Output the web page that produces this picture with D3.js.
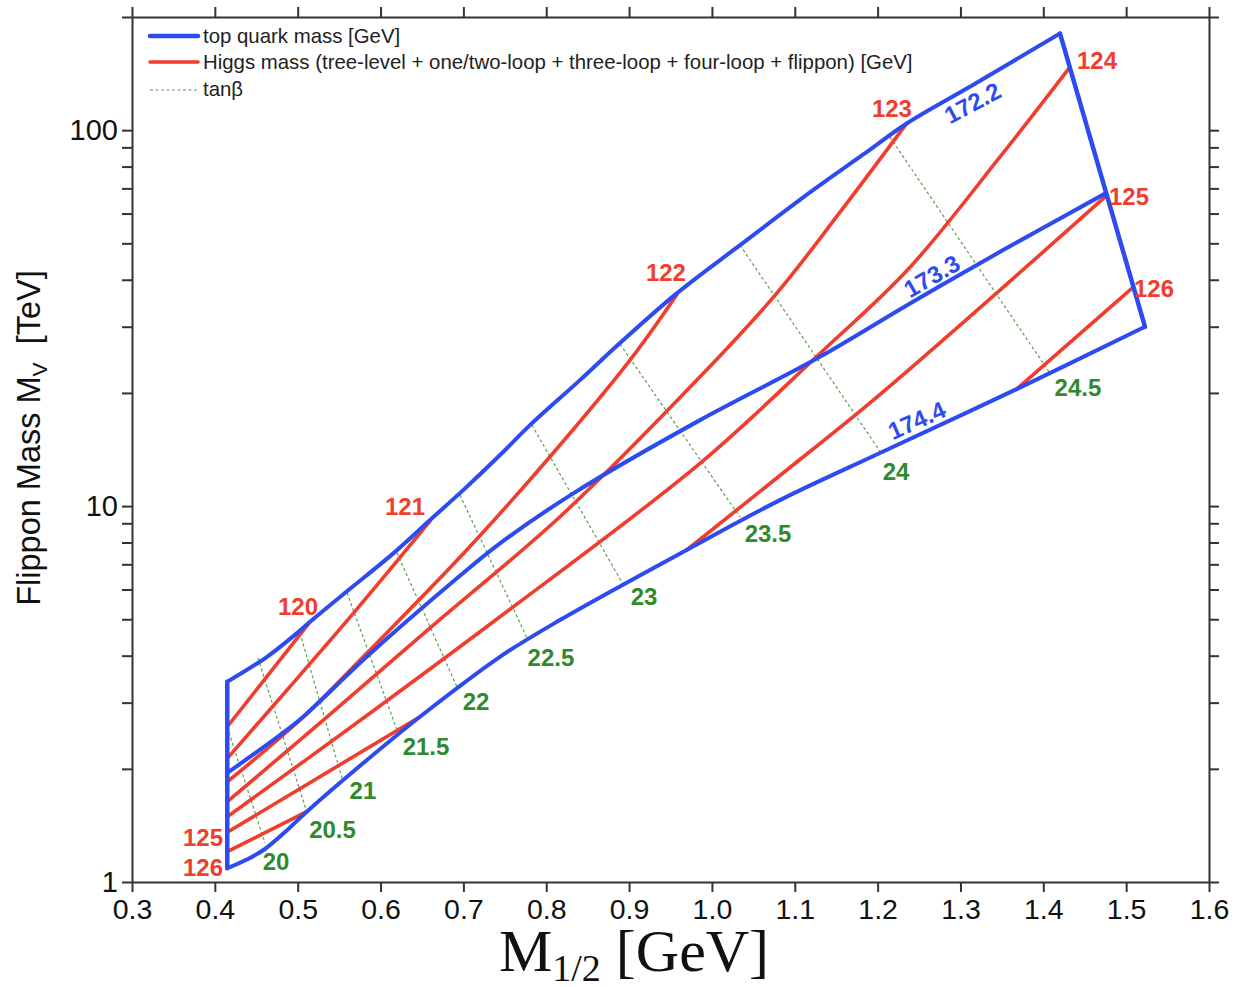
<!DOCTYPE html>
<meta charset="utf-8">
<style>

body {
  margin: 0;
  background: #fff;
}

text {
  font-family: "Liberation Sans", Arial, sans-serif;
}

.axis path,
.axis line {
  stroke: #333;
  stroke-width: 2px;
}

.contour {
  fill: none;
  stroke-linecap: round;
  stroke-linejoin: round;
}

</style>
<body>
<script src="https://d3js.org/d3.v7.min.js"></script>
<script>

// ---- data ----
var xTicks = [0.3, 0.4, 0.5, 0.6, 0.7, 0.8, 0.9, 1.0, 1.1, 1.2, 1.3, 1.4, 1.5, 1.6];
var yTickLabels = [1, 10, 100];

// top quark mass contours [GeV]
var top1722 = [[0.415, 3.41], [0.4626, 3.966], [0.4988, 4.585], [0.5149, 4.923], [0.5591, 5.925],
  [0.6154, 7.485], [0.6597, 9.18], [0.704, 11.25], [0.7442, 13.67], [0.7804, 16.42], [0.8407, 21.63],
  [0.889, 27.14], [0.9575, 36.8], [1.0339, 49.45], [1.122, 69.25], [1.1823, 86.05], [1.2351, 104.2],
  [1.3155, 132.1], [1.4201, 180.8]];
var top1733 = [[0.415, 1.95], [0.4786, 2.46], [0.5068, 2.752], [0.5833, 3.973], [0.6919, 6.416],
  [0.7442, 7.959], [0.8327, 10.81], [0.9856, 16.93], [1.1304, 24.95], [1.2391, 34.6], [1.3477, 47.46],
  [1.4756, 68.0]];
var top1744 = [[0.415, 1.088], [0.44, 1.151], [0.4605, 1.224], [0.4847, 1.358], [0.5109, 1.538],
  [0.5692, 1.986], [0.6476, 2.752], [0.7442, 3.973], [0.8166, 4.975], [0.9695, 7.64],
  [1.0821, 10.37], [1.2028, 13.84], [1.3678, 20.47], [1.5227, 30]];
var edgeLeft = [[0.415, 3.41], [0.415, 1.088]];
var edgeRight = [[1.4201, 180.8], [1.5227, 30]];

// Higgs mass contours [GeV]
var higgs120 = [[0.415, 2.588], [0.5149, 4.923]];
var higgs121 = [[0.415, 2.133], [0.5028, 3.552], [0.5671, 5.184], [0.6597, 9.12]];
var higgs122 = [[0.415, 1.848], [0.5028, 2.697], [0.5833, 4.057], [0.704, 7.64], [0.8045, 13.53],
  [0.9011, 24.45], [0.9575, 36.5]];
var higgs123 = [[0.415, 1.635], [0.5309, 2.697], [0.6718, 4.994], [0.8166, 9.365], [0.9856, 22.07],
  [1.0781, 36.8], [1.1546, 60.5], [1.2351, 104.2]];
var higgs124 = [[0.415, 1.492], [0.5752, 2.689], [0.7442, 5.077], [0.9856, 12.99], [1.1304, 25.47],
  [1.2391, 43.2], [1.3477, 84.9], [1.431, 146]];
var higgs125a = [[0.415, 1.356], [0.6476, 2.752]];
var higgs126a = [[0.415, 1.204], [0.5109, 1.538]];
var higgs125b = [[0.9695, 7.64], [1.0821, 12.06], [1.1948, 19.14], [1.3477, 37.54], [1.4756, 66.75]];
var higgs126b = [[1.3678, 20.47], [1.5086, 38.23]];

// tan(beta) contours
var tanbValues = [20, 20.5, 21, 21.5, 22, 22.5, 23, 23.5, 24, 24.5];
var tanbLines = [
  [[0.415, 2.58], [0.4605, 1.27]],
  [[0.4521, 3.94], [0.5109, 1.538]],
  [[0.5028, 4.595], [0.5535, 1.89]],
  [[0.5595, 5.88], [0.6199, 2.537]],
  [[0.6199, 7.499], [0.6923, 3.302]],
  [[0.6959, 10.7], [0.778, 4.401]],
  [[0.7828, 16.42], [0.8926, 6.203]],
  [[0.889, 26.97], [1.0339, 9.35]],
  [[1.0339, 49.45], [1.2028, 14.0]],
  [[1.2149, 95.8], [1.408, 22.58]]
];
var tanbLabelX = [0.4738, 0.542, 0.5788, 0.6549, 0.7152, 0.8057, 0.918, 1.0677, 1.2222, 1.4418];
var tanbLabelY = [1.134, 1.384, 1.757, 2.30, 3.03, 3.966, 5.763, 8.45, 12.39, 20.66];

var higgsLabels = ["120", "121", "122", "123", "124", "125", "126", "125", "126"];
var higgsLabelX = [0.5004, 0.6295, 0.9445, 1.2173, 1.4648, 1.5034, 1.5336, 0.3857, 0.3857];
var higgsLabelY = [5.42, 10.0, 41.9, 114.4, 153.6, 66.8, 38.0, 1.317, 1.096];

var topLabels = ["172.2", "173.3", "174.4"];
var topLabelX = [1.3145, 1.2653, 1.2471];
var topLabelY = [118.3, 40.95, 16.93];
var topLabelAngle = [-28, -30, -24];

// ---- drawing ----
var w = 1239,
    h = 987;

var blue = "#2c4bf0",
    red = "#f03d2d",
    green = "#2f8a2c",
    dash = "#5d9e52";

var x = d3.scaleLinear().domain([0.3, 1.6]).range([132, 1209]);
var y = d3.scaleLog().domain([1, 200]).range([882, 17]);

var svg = d3.select("body").append("svg")
    .attr("width", w)
    .attr("height", h);

var line = d3.line()
    .x(function(d) { return x(d[0]); })
    .y(function(d) { return y(d[1]); })
    .curve(d3.curveCatmullRom.alpha(0.5));

var straight = d3.line()
    .x(function(d) { return x(d[0]); })
    .y(function(d) { return y(d[1]); });

// axes
var yTicks = y.ticks();

svg.append("g")
    .attr("class", "axis")
    .attr("transform", "translate(0,882)")
    .call(d3.axisBottom(x).tickValues(xTicks).tickSize(10).tickSizeOuter(0).tickPadding(7)
      .tickFormat(d3.format(".1f")))
    .call(function(g) { g.selectAll("text").attr("font-size", 28.5).attr("fill", "#111")
      .style("font-family", "Liberation Sans, Arial, sans-serif"); });

svg.append("g")
    .attr("class", "axis")
    .attr("transform", "translate(0,17)")
    .call(d3.axisTop(x).tickValues(xTicks).tickSize(10).tickSizeOuter(0).tickFormat(""));

svg.append("g")
    .attr("class", "axis")
    .attr("transform", "translate(132,0)")
    .call(d3.axisLeft(y).tickValues(yTicks).tickSize(10).tickSizeOuter(0).tickPadding(4)
      .tickFormat(function(d) { return yTickLabels.indexOf(d) >= 0 ? d : ""; }))
    .call(function(g) { g.selectAll("text").attr("font-size", 29).attr("fill", "#111")
      .style("font-family", "Liberation Sans, Arial, sans-serif"); });

svg.append("g")
    .attr("class", "axis")
    .attr("transform", "translate(1209,0)")
    .call(d3.axisRight(y).tickValues(yTicks).tickSize(10).tickSizeOuter(0).tickFormat(""));

// tan(beta) dashed lines
svg.selectAll(".tanb")
    .data(tanbLines)
  .enter().append("path")
    .attr("class", "contour tanb")
    .attr("d", straight)
    .style("stroke", dash)
    .style("stroke-width", 1.2)
    .style("stroke-linecap", "butt")
    .style("stroke-dasharray", "3,2.5");

// Higgs mass lines
var higgsLines = [higgs120, higgs121, higgs122, higgs123, higgs124, higgs125a, higgs126a, higgs125b, higgs126b];
svg.selectAll(".higgs")
    .data(higgsLines)
  .enter().append("path")
    .attr("class", "contour higgs")
    .attr("d", line)
    .style("stroke", red)
    .style("stroke-width", 3.6);

// top quark mass lines + region edges
var topLines = [top1722, top1733, top1744];
svg.selectAll(".topq")
    .data(topLines)
  .enter().append("path")
    .attr("class", "contour topq")
    .attr("d", line)
    .style("stroke", blue)
    .style("stroke-width", 4);

svg.selectAll(".edge")
    .data([edgeLeft, edgeRight])
  .enter().append("path")
    .attr("class", "contour edge")
    .attr("d", straight)
    .style("stroke", blue)
    .style("stroke-width", 4.5);

// labels
svg.selectAll(".hlab")
    .data(higgsLabels)
  .enter().append("text")
    .attr("x", function(d, i) { return x(higgsLabelX[i]); })
    .attr("y", function(d, i) { return y(higgsLabelY[i]); })
    .attr("dy", "0.36em")
    .attr("text-anchor", "middle")
    .attr("font-size", 24)
    .attr("font-weight", "bold")
    .attr("fill", red)
    .text(function(d) { return d; });

svg.selectAll(".tlab")
    .data(tanbValues)
  .enter().append("text")
    .attr("x", function(d, i) { return x(tanbLabelX[i]); })
    .attr("y", function(d, i) { return y(tanbLabelY[i]); })
    .attr("dy", "0.36em")
    .attr("text-anchor", "middle")
    .attr("font-size", 24)
    .attr("font-weight", "bold")
    .attr("fill", green)
    .text(function(d) { return d; });

svg.selectAll(".qlab")
    .data(topLabels)
  .enter().append("text")
    .attr("transform", function(d, i) {
      return "translate(" + x(topLabelX[i]) + "," + y(topLabelY[i]) + ") rotate(" + topLabelAngle[i] + ")";
    })
    .attr("dy", "0.36em")
    .attr("text-anchor", "middle")
    .attr("font-size", 24)
    .attr("font-weight", "bold")
    .attr("fill", blue)
    .text(function(d) { return d; });

// legend
var legend = svg.append("g").attr("transform", "translate(150,0)");
legend.append("line").attr("x1", 0).attr("x2", 48).attr("y1", 36).attr("y2", 36)
    .style("stroke", blue).style("stroke-width", 4.5).style("stroke-linecap", "round");
legend.append("line").attr("x1", 0).attr("x2", 48).attr("y1", 62).attr("y2", 62)
    .style("stroke", red).style("stroke-width", 3.6).style("stroke-linecap", "round");
legend.append("line").attr("x1", 0).attr("x2", 48).attr("y1", 90).attr("y2", 90)
    .style("stroke", dash).style("stroke-width", 1.2).style("stroke-dasharray", "3,2.5");
legend.selectAll("text")
    .data(["top quark mass [GeV]",
           "Higgs mass (tree-level + one/two-loop + three-loop + four-loop + flippon) [GeV]",
           "tan\u03b2"])
  .enter().append("text")
    .attr("x", 53)
    .attr("y", function(d, i) { return [43, 69, 96][i]; })
    .attr("font-size", 20.4)
    .attr("fill", "#222")
    .text(function(d) { return d; });

// axis titles
var yt = svg.append("text")
    .attr("transform", "translate(40,438) rotate(-90)")
    .attr("text-anchor", "middle")
    .attr("font-size", 32.5)
    .attr("fill", "#111")
    .style("white-space", "pre");
yt.append("tspan").text("Flippon Mass M");
yt.append("tspan").attr("font-size", 21).attr("dy", 7).text("V");
yt.append("tspan").attr("dy", -7).text("  [TeV]");

var xt = svg.append("text")
    .attr("x", 634)
    .attr("y", 971)
    .attr("text-anchor", "middle")
    .attr("font-size", 60)
    .attr("fill", "#111")
    .style("font-family", "Liberation Serif, Times New Roman, serif")
    .style("white-space", "pre");
xt.append("tspan").text("M");
xt.append("tspan").attr("font-size", 38).attr("dy", 10).text("1/2");
xt.append("tspan").attr("dy", -10).text(" [GeV]");

</script>
